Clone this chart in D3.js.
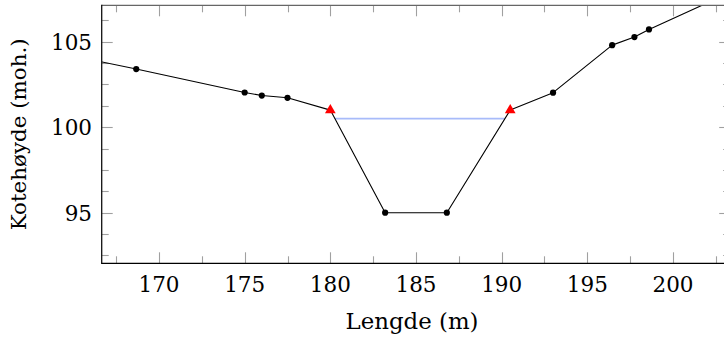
<!DOCTYPE html>
<html>
<head>
<meta charset="utf-8">
<script src="https://cdn.jsdelivr.net/npm/d3@7"></script>
<style>
  html, body { margin: 0; padding: 0; background: #fff; }
  svg { display: block; }
</style>
</head>
<body>
<svg id="chart" width="724" height="338"></svg>
<script>
// Terrain cross-section: station (m) and elevation (moh.)
const stations   = [165.0, 168.67, 175.0, 176.0, 177.5, 180.0, 183.2, 186.8, 190.5, 193.0, 196.45, 197.75, 198.6, 204.0];
const elevations = [104.17, 103.4, 102.03, 101.85, 101.72, 101.0, 95.0, 95.0, 101.0, 102.02, 104.8, 105.27, 105.72, 108.18];
// marker per point: "none", "dot" (surveyed point) or "tri" (bank top)
const markers    = ["none", "dot", "dot", "dot", "dot", "tri", "dot", "dot", "tri", "dot", "dot", "dot", "dot", "none"];

const waterLevel = 100.5;

const xMajorTicks = [170, 175, 180, 185, 190, 195, 200];
const xMinorTicks = [167.5, 172.5, 177.5, 182.5, 187.5, 192.5, 197.5, 202.5];
const yMajorTicks = [95, 100, 105];
const yMinorTicks = [92.5, 93.75, 96.25, 97.5, 98.75, 101.25, 102.5, 103.75, 106.25];

const xLabel = "Lengde (m)";
const yLabel = "Kotehøyde (moh.)";

const FONT = "'DejaVu Serif'";

const svg = d3.select("#chart");

const plotLeft = 101.7, plotRight = 730.2, plotTop = 5.3, plotBottom = 263.3;
const x = d3.scaleLinear().domain([166.655, 203.34]).range([plotLeft, plotRight]);
const y = d3.scaleLinear().domain([92.04, 107.13]).range([plotBottom, plotTop]);

svg.append("defs").append("clipPath").attr("id", "plotClip")
  .append("rect").attr("x", plotLeft).attr("y", plotTop)
  .attr("width", plotRight - plotLeft).attr("height", plotBottom - plotTop);

// Inward ticks on all four sides
const tickColor = "#a0a0a0";
const majorLen = 11, minorLen = 7;
const tickG = svg.append("g").attr("stroke", tickColor).attr("stroke-width", 1.1);

function xTicks(vals, len) {
  vals.forEach(v => {
    const px = Math.round(x(v)) + 0.5;
    tickG.append("line").attr("x1", px).attr("x2", px).attr("y1", plotBottom).attr("y2", plotBottom - len);
    tickG.append("line").attr("x1", px).attr("x2", px).attr("y1", plotTop).attr("y2", plotTop + len);
  });
}
function yTicks(vals, len) {
  vals.forEach(v => {
    const py = Math.round(y(v)) + 0.5;
    tickG.append("line").attr("y1", py).attr("y2", py).attr("x1", plotLeft).attr("x2", plotLeft + len);
    tickG.append("line").attr("y1", py).attr("y2", py).attr("x1", plotRight).attr("x2", plotRight - len);
  });
}
xTicks(xMajorTicks, majorLen);
xTicks(xMinorTicks, minorLen);
yTicks(yMajorTicks, majorLen);
yTicks(yMinorTicks, minorLen);

// Water surface between the two crossings of the terrain line
function crossings(level) {
  const out = [];
  for (let i = 0; i < stations.length - 1; i++) {
    const a = elevations[i] - level, b = elevations[i + 1] - level;
    if (a * b < 0) {
      const t = a / (a - b);
      out.push(stations[i] + t * (stations[i + 1] - stations[i]));
    }
  }
  return out;
}
const wx = crossings(waterLevel);
const plot = svg.append("g").attr("clip-path", "url(#plotClip)");

plot.append("line")
  .attr("x1", x(wx[0])).attr("x2", x(wx[wx.length - 1]))
  .attr("y1", y(waterLevel)).attr("y2", y(waterLevel))
  .attr("stroke", "#a8bbfa").attr("stroke-width", 1.7);

const pts = stations.map((s, i) => ({ s, e: elevations[i], m: markers[i] }));

plot.append("path")
  .datum(pts)
  .attr("fill", "none")
  .attr("stroke", "#000")
  .attr("stroke-width", 1.1)
  .attr("stroke-linejoin", "round")
  .attr("d", d3.line().x(d => x(d.s)).y(d => y(d.e)));

plot.selectAll("circle.dot")
  .data(pts.filter(d => d.m === "dot"))
  .join("circle")
  .attr("class", "dot")
  .attr("cx", d => x(d.s)).attr("cy", d => y(d.e))
  .attr("r", 3.1).attr("fill", "#000");

const r = 6.2;
const tri = `M0,${-r} L${0.866 * r},${0.5 * r} L${-0.866 * r},${0.5 * r} Z`;
plot.selectAll("path.tri")
  .data(pts.filter(d => d.m === "tri"))
  .join("path")
  .attr("class", "tri")
  .attr("transform", d => `translate(${x(d.s)},${y(d.e)})`)
  .attr("d", tri)
  .attr("fill", "#ff0000");

// Frame
svg.append("line").attr("x1", plotLeft).attr("x2", plotRight).attr("y1", plotTop).attr("y2", plotTop)
  .attr("stroke", "#666").attr("stroke-width", 1.3);
svg.append("line").attr("x1", plotRight).attr("x2", plotRight).attr("y1", plotTop).attr("y2", plotBottom)
  .attr("stroke", "#666").attr("stroke-width", 1.3);
svg.append("line").attr("x1", plotLeft).attr("x2", plotLeft).attr("y1", plotTop - 0.6).attr("y2", plotBottom + 0.6)
  .attr("stroke", "#111").attr("stroke-width", 1.3);
svg.append("line").attr("x1", plotLeft).attr("x2", plotRight).attr("y1", plotBottom).attr("y2", plotBottom)
  .attr("stroke", "#000").attr("stroke-width", 1.3);

// Tick labels
const fs = 21.5;
svg.append("g").selectAll("text")
  .data(xMajorTicks)
  .join("text")
  .attr("x", d => x(d)).attr("y", 291.7)
  .attr("text-anchor", "middle")
  .attr("font-family", FONT)
  .attr("font-size", fs)
  .attr("fill", "#000")
  .text(d => d);

svg.append("g").selectAll("text")
  .data(yMajorTicks)
  .join("text")
  .attr("x", 92).attr("y", d => y(d) + 7.9)
  .attr("text-anchor", "end")
  .attr("font-family", FONT)
  .attr("font-size", fs)
  .attr("fill", "#000")
  .text(d => d);

// Axis titles
svg.append("text")
  .attr("x", 412).attr("y", 329.3)
  .attr("text-anchor", "middle")
  .attr("font-family", FONT)
  .attr("font-size", 22)
  .attr("fill", "#000")
  .attr("textLength", 133)
  .attr("lengthAdjust", "spacingAndGlyphs")
  .text(xLabel);

svg.append("text")
  .attr("transform", `translate(26,${(plotTop + plotBottom) / 2}) rotate(-90)`)
  .attr("text-anchor", "middle")
  .attr("font-family", FONT)
  .attr("font-size", 21)
  .attr("fill", "#000")
  .attr("textLength", 192)
  .attr("lengthAdjust", "spacingAndGlyphs")
  .text(yLabel);
</script>
</body>
</html>
